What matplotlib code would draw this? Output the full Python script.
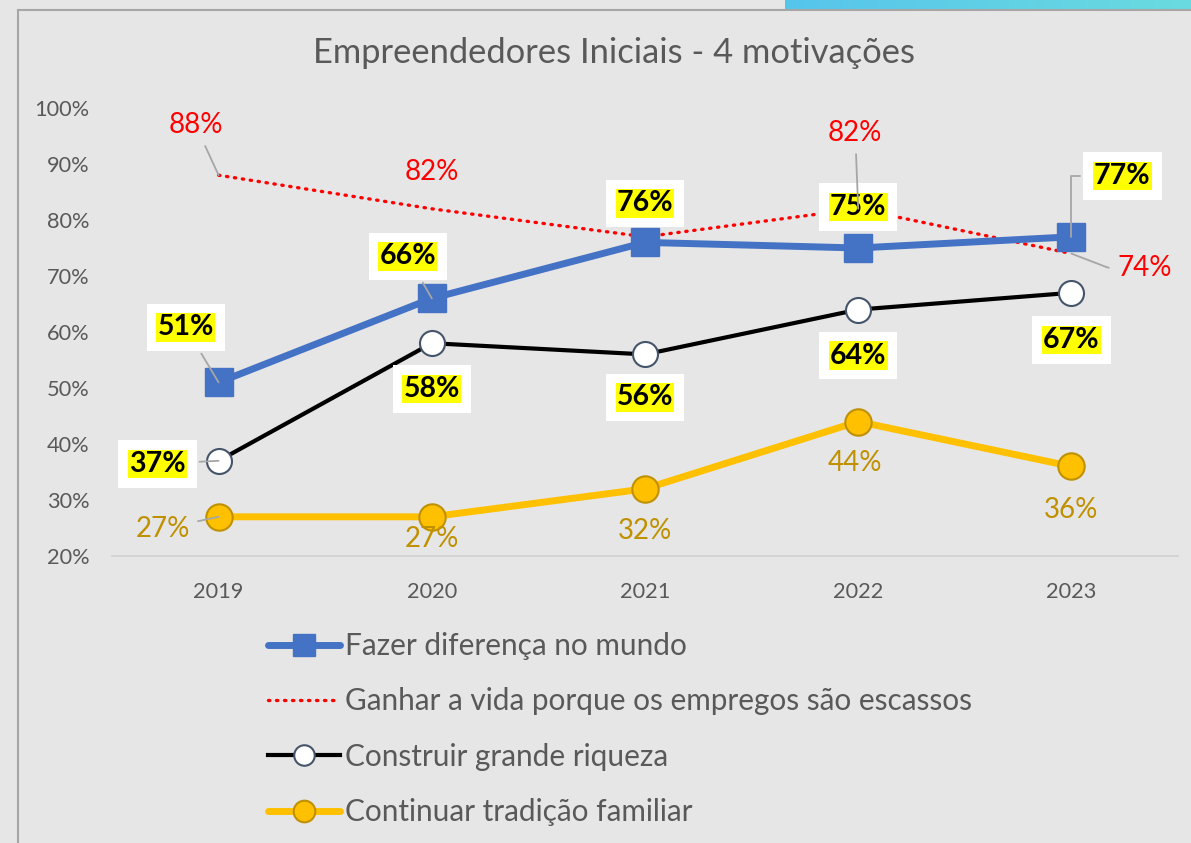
import matplotlib.pyplot as plt
import numpy as np
from matplotlib.lines import Line2D
from matplotlib.colors import LinearSegmentedColormap

plt.rcParams['font.family'] = ['Lato', 'DejaVu Sans']

anos = ['2019', '2020', '2021', '2022', '2023']
fazer = [51, 66, 76, 75, 77]
ganhar = [88, 82, 77, 82, 74]
construir = [37, 58, 56, 64, 67]
continuar = [27, 27, 32, 44, 36]

nomes = ['Fazer diferença no mundo',
         'Ganhar a vida porque os empregos são escassos',
         'Construir grande riqueza',
         'Continuar tradição familiar']

# label offsets in pixels (dx, dy), None = no label
off_fazer = [(-33, 55), (-24, 42), (0, 39), (0, 41), (51, 61)]
off_ganhar = [(-23, 50), (0, 37), None, (-3, 76), (73, -14)]
off_construir = [(-61, -3), (0, -46), (0, -43), (0, -46), (0, -47)]
off_continuar = [(-56, -12), (0, -22), (0, -42), (-3, -41), (0, -44)]

W, H = 1191, 843
BG = '#e7e6e6'
GRAY = '#595959'
LEADER = '#a6a6a6'

fig = plt.figure(figsize=(W / 100, H / 100), dpi=100, facecolor=BG)
ax = fig.add_axes([112 / W, 1 - 556 / H, 1066 / W, 448 / H])
ax.set_facecolor(BG)

x = np.arange(len(anos))
l1, = ax.plot(x, fazer, color='#4472c4', lw=5, marker='s', ms=20,
              mfc='#4472c4', mec='#4472c4', solid_capstyle='round', zorder=3)
l2, = ax.plot(x, ganhar, color='#ff0000', lw=2.4, linestyle=(0, (0.4, 2.0)),
              dash_capstyle='round', zorder=2)
l3, = ax.plot(x, construir, color='black', lw=3, marker='o', ms=18,
              mfc='white', mec='#44546a', mew=1.5, zorder=3)
l4, = ax.plot(x, continuar, color='#ffc000', lw=5, marker='o', ms=19,
              mfc='#ffc000', mec='#bf9000', mew=1.5, solid_capstyle='round', zorder=3)

ax.set_xlim(-0.5, 4.5)
ax.set_ylim(20, 100)
ax.set_yticks(range(20, 101, 10))
ax.set_yticklabels([f'{v}%' for v in range(20, 101, 10)])
ax.set_xticks(x)
ax.set_xticklabels(anos)
ax.tick_params(length=0, labelsize=15.7, colors=GRAY)
ax.tick_params(axis='y', pad=16)
ax.tick_params(axis='x', pad=18.5)
for s in ['top', 'right', 'left']:
    ax.spines[s].set_visible(False)
ax.spines['bottom'].set_color('#d0d0d0')
ax.spines['bottom'].set_linewidth(1.2)


def rotulo_amarelo(xi, v, off, leader=None):
    if off is None:
        return
    kw = dict(xy=(xi, v), xytext=off, textcoords='offset pixels',
              ha='center', va='center', fontsize=20.5, fontweight='bold', zorder=6)
    ap = None
    if leader is not None:
        ap = dict(arrowstyle='-', color=LEADER, lw=1.3, shrinkA=2, shrinkB=0,
                  connectionstyle=leader)
    ax.annotate(f'{v}%', color='none', arrowprops=ap,
                bbox=dict(boxstyle='square,pad=0.38', fc='white', ec='none'), **kw)
    ax.annotate(f'{v}%', color='black',
                bbox=dict(boxstyle='square,pad=0.04', fc='#ffff00', ec='none'), **kw)


def rotulo_simples(xi, v, off, cor, leader=None):
    if off is None:
        return
    ap = None
    if leader is not None:
        ap = dict(arrowstyle='-', color=LEADER, lw=1.3, shrinkA=4, shrinkB=0,
                  connectionstyle=leader)
    ax.annotate(f'{v}%', xy=(xi, v), xytext=off, textcoords='offset pixels',
                ha='center', va='center', fontsize=20, color=cor,
                arrowprops=ap, zorder=7)


lead_fazer = ['arc3', 'arc3', None, None, 'angle,angleA=0,angleB=90,rad=0']
lead_ganhar = ['arc3', None, None, 'arc3', 'angle,angleA=0,angleB=-21,rad=0']
lead_construir = ['arc3', None, None, None, None]
lead_continuar = ['arc3', None, None, None, None]

for i in range(len(anos)):
    rotulo_amarelo(x[i], fazer[i], off_fazer[i], lead_fazer[i])
    rotulo_amarelo(x[i], construir[i], off_construir[i], lead_construir[i])
    rotulo_simples(x[i], ganhar[i], off_ganhar[i], '#ff0000', lead_ganhar[i])
    rotulo_simples(x[i], continuar[i], off_continuar[i], '#bf9000', lead_continuar[i])

fig.text(614 / W, 1 - 53 / H, 'Empreendedores Iniciais - 4 motivações',
         ha='center', va='center', fontsize=24.8, color=GRAY)

leg = fig.legend([l1, l2, l3, l4], nomes, loc='upper left',
                 bbox_to_anchor=(268 / W, 1 - 632 / H), frameon=False,
                 fontsize=21.4, labelcolor=GRAY, handlelength=2.42,
                 handletextpad=0.17, labelspacing=0.92, borderpad=0,
                 borderaxespad=0, markerscale=0.82)

# frame of the slide
fig.add_artist(Line2D([18 / W, 18 / W], [0, 1 - 10 / H], transform=fig.transFigure,
                      color='#a6a6a6', lw=1.5))
fig.add_artist(Line2D([18 / W, 1], [1 - 10 / H, 1 - 10 / H], transform=fig.transFigure,
                      color='#a6a6a6', lw=1.5))
# cyan strip at the top right
cax = fig.add_axes([785 / W, 1 - 9 / H, (W - 785) / W, 9 / H])
grad = np.linspace(0, 1, 256).reshape(1, -1)
cm = LinearSegmentedColormap.from_list('c', ['#56c5ec', '#6adbdf'])
cax.imshow(grad, aspect='auto', cmap=cm)
cax.axis('off')

fig.savefig('out.png', dpi=100, facecolor=BG)
